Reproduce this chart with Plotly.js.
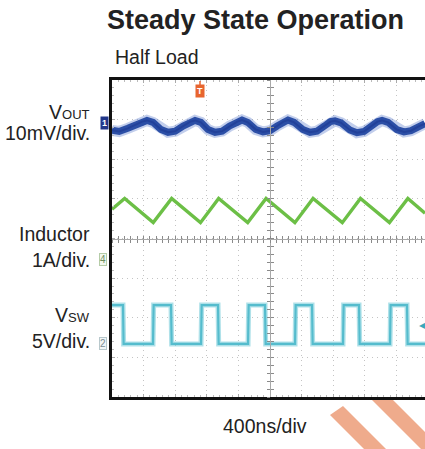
<!DOCTYPE html>
<html>
<head>
<meta charset="utf-8">
<script src="https://cdn.plot.ly/plotly-3.0.1.min.js"></script>
<style>html,body{margin:0;padding:0;background:#fff;}#chart{width:425px;height:449px;}</style>
</head>
<body>
<div id="chart"></div>
<script>
// ---- data (time in ns, amplitude in scope divisions) ----
const VOUT_T = [0, 90, 200, 300, 380, 443, 520, 620, 709, 800, 900, 990, 1051, 1125, 1215, 1304, 1395, 1490, 1585, 1646, 1720, 1820, 1911, 2000, 2090, 2170, 2228, 2305, 2415, 2506, 2595, 2690, 2765, 2823, 2900, 3010, 3101, 3190, 3285, 3360, 3418, 3495, 3605, 3696, 3785, 3880, 3962];
const VOUT_V = [2.73, 2.70, 2.78, 2.87, 2.95, 2.98, 2.93, 2.75, 2.68, 2.71, 2.84, 2.95, 2.98, 2.93, 2.75, 2.68, 2.71, 2.84, 2.95, 2.99, 2.93, 2.75, 2.69, 2.72, 2.84, 2.95, 2.99, 2.93, 2.75, 2.68, 2.71, 2.84, 2.95, 2.97, 2.92, 2.74, 2.67, 2.70, 2.84, 2.95, 2.98, 2.93, 2.75, 2.69, 2.72, 2.83, 2.90];

const IL_T = [0, 160, 522, 755, 1120, 1350, 1718, 1950, 2315, 2545, 2915, 3145, 3512, 3745, 3962];
const IL_V = [0.74, 1.01, 0.40, 1.01, 0.40, 1.01, 0.40, 1.01, 0.40, 1.01, 0.40, 1.01, 0.40, 1.01, 0.64];

const SW_T = [0, 139, 147, 519, 527, 747, 755, 1127, 1135, 1342, 1350, 1722, 1730, 1937, 1945, 2317, 2325, 2532, 2540, 2924, 2932, 3127, 3135, 3519, 3527, 3734, 3742, 3962];
const SW_V = [-1.68, -1.68, -2.66, -2.66, -1.68, -1.68, -2.66, -2.66, -1.68, -1.68, -2.66, -2.66, -1.68, -1.68, -2.66, -2.66, -1.68, -1.68, -2.66, -2.66, -1.68, -1.68, -2.66, -2.66, -1.68, -1.68, -2.66, -2.66];

const X_RANGE = [0, 3962];   // 400 ns/div, screen cut at right
const Y_RANGE = [-4, 4];     // 8 vertical divisions
const TIME_DIV = 400;

// ---- layout helpers (pixel -> paper) ----
const L = 112, R = 425, T = 80, B = 397;
const fx = x => (x - L) / (R - L);
const fy = y => (B - y) / (B - T);

const FONT = 'Liberation Sans, Arial, sans-serif';

const traces = [
  {x: VOUT_T, y: VOUT_V, mode: 'lines', line: {color: 'rgba(80,115,200,0.35)', width: 11}, hoverinfo: 'skip'},
  {x: VOUT_T, y: VOUT_V, mode: 'lines', line: {color: '#2c4fa6', width: 7}, hoverinfo: 'skip'},
  {x: VOUT_T, y: VOUT_V, mode: 'lines', line: {color: '#22419a', width: 2}, hoverinfo: 'skip'},
  {x: IL_T, y: IL_V, mode: 'lines', line: {color: '#6cbf46', width: 3.4}, hoverinfo: 'skip'},
  {x: SW_T, y: SW_V, mode: 'lines', line: {color: 'rgba(110,200,215,0.55)', width: 5}, hoverinfo: 'skip'},
  {x: SW_T, y: SW_V, mode: 'lines', line: {color: '#55bccd', width: 2.2}, hoverinfo: 'skip'},
  {x: [null], y: [null], xaxis: 'x2', yaxis: 'y2', mode: 'lines', hoverinfo: 'skip'},
  {x: [null], y: [null], xaxis: 'x3', yaxis: 'y3', mode: 'lines', hoverinfo: 'skip'}
];

const grid = {color: '#c4c4c4', dash: '1px,4px'};
const centerX = (2000 - X_RANGE[0]) / (X_RANGE[1] - X_RANGE[0]);

function centerAxisX(side) {
  return {overlaying: 'x', anchor: 'free', position: 0.5, range: X_RANGE, showgrid: false, zeroline: false,
    showline: true, linecolor: '#a8a8a8', linewidth: 1, ticks: side, ticklen: 3, tickcolor: '#8a8a8a',
    dtick: TIME_DIV / 5, tick0: 0, showticklabels: false, fixedrange: true};
}
function centerAxisY(side) {
  return {overlaying: 'y', anchor: 'free', position: centerX, range: Y_RANGE, showgrid: false, zeroline: false,
    showline: true, linecolor: '#a8a8a8', linewidth: 1, ticks: side, ticklen: 3, tickcolor: '#8a8a8a',
    dtick: 0.2, tick0: 0, showticklabels: false, fixedrange: true};
}

const ann = (text, x, y, opts) => Object.assign({text: text, x: fx(x), y: fy(y), xref: 'paper', yref: 'paper',
  showarrow: false, font: {family: FONT, size: 19.5, color: '#222'}, xanchor: 'center', yanchor: 'middle'}, opts || {});

const annotations = [
  ann('<b>Steady State Operation</b>', 255, 20, {font: {family: FONT, size: 27, color: '#222'}}),
  ann('Half Load', 113, 57, {xanchor: 'left'}),
  ann('V<span style="font-size:13px">OUT</span>', 92, 112, {xanchor: 'right'}),
  ann('10mV/div.', 92, 133, {xanchor: 'right'}),
  ann('Inductor', 92, 234, {xanchor: 'right'}),
  ann('1A/div.', 92, 260, {xanchor: 'right'}),
  ann('V<span style="font-size:13px">SW</span>', 92, 315, {xanchor: 'right'}),
  ann('5V/div.', 92, 341, {xanchor: 'right'}),
  ann('400ns/div', 265, 426),
  ann('<b>1</b>', 104, 123, {font: {family: FONT, size: 9, color: '#fff'}, bgcolor: '#22378a', borderpad: 1}),
  ann('4', 103, 259, {font: {family: FONT, size: 10, color: '#6f8f62'}, bgcolor: '#f2f8ee', bordercolor: '#b5cca8', borderwidth: 1, borderpad: 0}),
  ann('2', 103, 343, {font: {family: FONT, size: 10, color: '#7d8f95'}, bgcolor: '#f1f6f7', bordercolor: '#b8c8cc', borderwidth: 1, borderpad: 0}),
  ann('<b>T</b>', 200, 91, {font: {family: FONT, size: 9, color: '#fff'}, bgcolor: '#e8652e', borderpad: 1}),
  ann('\u25C0', 422, 325, {font: {family: 'DejaVu Sans', size: 8, color: '#3aa8bb'}})
];

const P = (pts) => 'M ' + pts.map(p => fx(p[0]) + ',' + fy(p[1])).join(' L ') + ' Z';
const shapes = [
  {type: 'line', xref: 'paper', yref: 'paper', x0: fx(200), x1: fx(200), y0: fy(81), y1: fy(86), line: {color: '#e8652e', width: 1.5}},
  {type: 'path', xref: 'paper', yref: 'paper', path: P([[330, 415], [343, 406], [386, 449], [364, 449]]), fillcolor: '#efab8c', line: {width: 0}},
  {type: 'path', xref: 'paper', yref: 'paper', path: P([[372, 400], [393, 400], [425, 432], [425, 449], [421, 449]]), fillcolor: '#efab8c', line: {width: 0}}
];

const layout = {
  width: 425, height: 449,
  margin: {l: L, r: 425 - R, t: T, b: 449 - B, pad: 0},
  paper_bgcolor: '#fff', plot_bgcolor: '#fff',
  showlegend: false,
  xaxis: {range: X_RANGE, dtick: TIME_DIV, tick0: 0, showgrid: true, gridcolor: grid.color, griddash: grid.dash, gridwidth: 1,
    zeroline: false, showline: true, mirror: 'allticks', linecolor: '#111', linewidth: 3, showticklabels: false,
    ticks: 'inside', ticklen: 3, tickcolor: '#aaa',
    minor: {dtick: TIME_DIV / 5, tick0: 0, ticks: 'inside', ticklen: 2, tickcolor: '#bbb'}, fixedrange: true},
  yaxis: {range: Y_RANGE, dtick: 1, tick0: 0, showgrid: true, gridcolor: grid.color, griddash: grid.dash, gridwidth: 1,
    zeroline: false, showline: true, mirror: false, linecolor: '#111', linewidth: 3, showticklabels: false,
    ticks: 'inside', ticklen: 3, tickcolor: '#aaa',
    minor: {dtick: 0.2, tick0: 0, ticks: 'inside', ticklen: 2, tickcolor: '#bbb'}, fixedrange: true},
  xaxis2: centerAxisX('inside'),
  xaxis3: centerAxisX('outside'),
  yaxis2: centerAxisY('inside'),
  yaxis3: centerAxisY('outside'),
  annotations: annotations,
  shapes: shapes
};

Plotly.newPlot('chart', traces, layout, {staticPlot: true, displayModeBar: false});
</script>
</body>
</html>
